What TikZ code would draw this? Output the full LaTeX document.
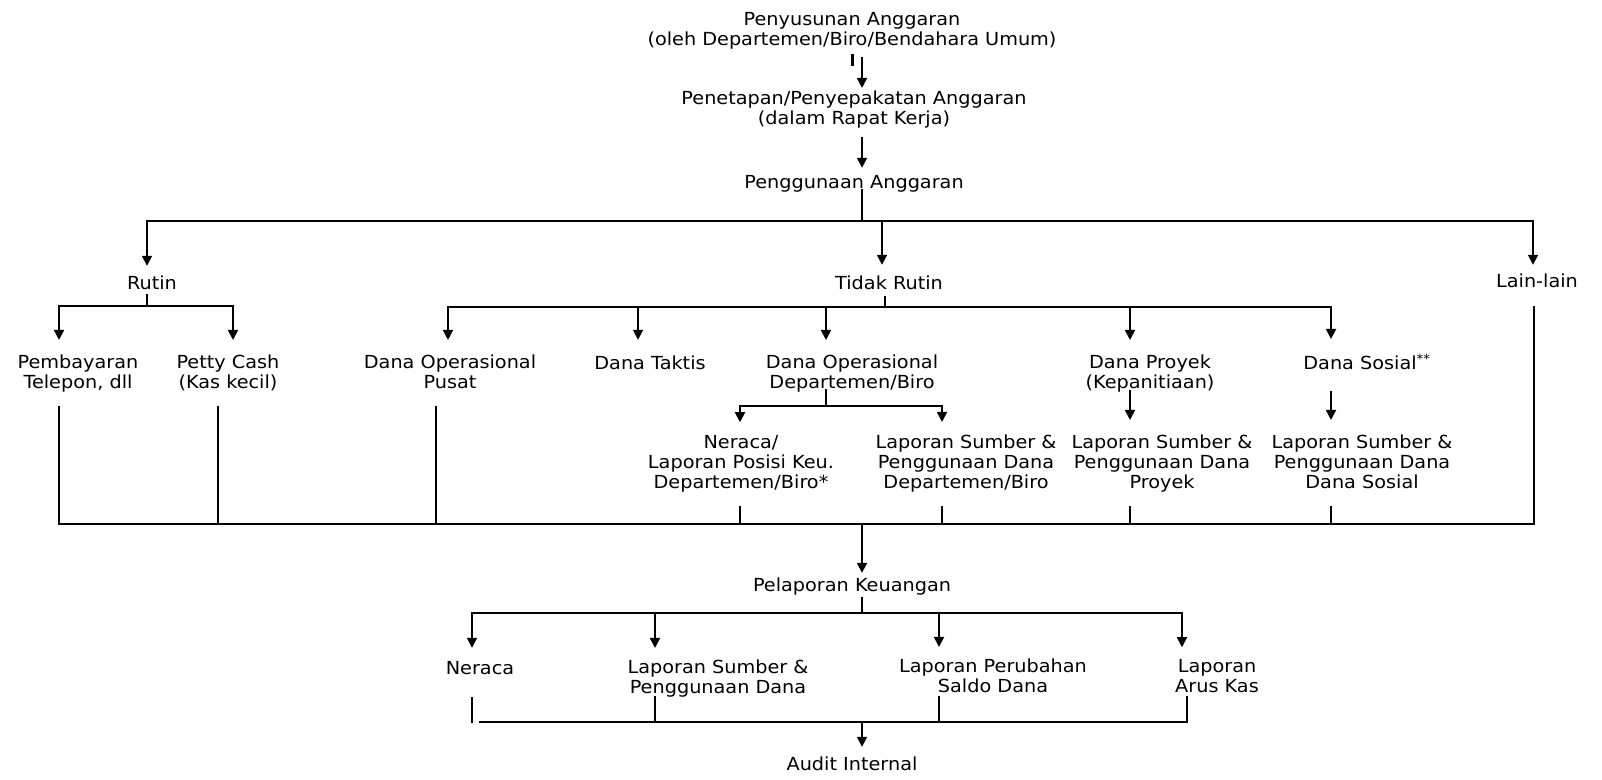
\documentclass[tikz,border=0pt]{standalone}
\usepackage{fontspec}
\setmainfont{DejaVu Sans}[FakeStretch=1.07]
\usetikzlibrary{arrows.meta}
\begin{document}
\begin{tikzpicture}[x=1pt,y=-1pt,
  lbl/.style={font=\fontsize{18}{20}\selectfont, align=center, inner sep=0pt,
              execute at begin node=\strut, execute at end node=\strut},
  ln/.style={line width=1.8pt, line cap=rect},
  arr/.style={line width=1.8pt, -{Triangle[length=10pt,width=10pt]}},
  tickmark/.style={line width=3pt}]
\useasboundingbox[fill=white] (0,0) rectangle (1602,779);

% ---------- nodes ----------
\node[lbl] (n1) at (852,32) {Penyusunan Anggaran\\(oleh Departemen/Biro/Bendahara Umum)};
\node[lbl] (n2) at (854,111) {Penetapan/Penyepakatan Anggaran\\(dalam Rapat Kerja)};
\node[lbl] (n3) at (854,184) {Penggunaan Anggaran};

\node[lbl] (rutin) at (152,285) {Rutin};
\node[lbl] (tidak) at (889,285) {Tidak Rutin};
\node[lbl] (lain)  at (1537,283) {Lain-lain};

\node[lbl] (pemb)   at (78,375)   {Pembayaran\\Telepon, dll};
\node[lbl] (petty)  at (228,375)  {Petty Cash\\(Kas kecil)};
\node[lbl] (pusat)  at (450,375)  {Dana Operasional\\Pusat};
\node[lbl] (taktis) at (650,365)  {Dana Taktis};
\node[lbl] (opdept) at (852,375)  {Dana Operasional\\Departemen/Biro};
\node[lbl] (proyek) at (1150,375) {Dana Proyek\\(Kepanitiaan)};
\node[lbl] (sosial) at (1367,365) {Dana Sosial\textsuperscript{**}};

\node[lbl] (ner1)   at (741,465)  {Neraca/\\Laporan Posisi Keu.\\Departemen/Biro*};
\node[lbl] (lsdept) at (966,465)  {Laporan Sumber \&\\Penggunaan Dana\\Departemen/Biro};
\node[lbl] (lsproy) at (1162,465) {Laporan Sumber \&\\Penggunaan Dana\\Proyek};
\node[lbl] (lssos)  at (1362,465) {Laporan Sumber \&\\Penggunaan Dana\\Dana Sosial};

\node[lbl] (pelap)  at (852,587)  {Pelaporan Keuangan};
\node[lbl] (neraca) at (480,670)  {Neraca};
\node[lbl] (lsd)    at (718,680)  {Laporan Sumber \&\\Penggunaan Dana};
\node[lbl] (lpsd)   at (993,679)  {Laporan Perubahan\\Saldo Dana};
\node[lbl] (lak)    at (1217,679) {Laporan\\Arus Kas};
\node[lbl] (audit)  at (852,766)  {Audit Internal};

% ---------- junction coordinates ----------
\coordinate (a0) at (862,0);
\coordinate (j0) at (862,221);
\coordinate (jR) at (147,221);
\coordinate (jT) at (882,221);
\coordinate (jL) at (1533,221);

\coordinate (r0) at (147,306);
\coordinate (r1) at (59,306);
\coordinate (r2) at (233,306);

\coordinate (t0) at (885,307);
\coordinate (t1) at (448,307);
\coordinate (t2) at (638,307);
\coordinate (t3) at (826,307);
\coordinate (t4) at (1130,307);
\coordinate (t5) at (1331,307);

\coordinate (d0) at (826,406);
\coordinate (d1) at (740,406);
\coordinate (d2) at (942,406);

\coordinate (c0) at (862,524);
\coordinate (cL) at (59,524);
\coordinate (c2) at (218,524);
\coordinate (c3) at (436,524);
\coordinate (c4) at (740,524);
\coordinate (c5) at (942,524);
\coordinate (c6) at (1130,524);
\coordinate (c7) at (1331,524);
\coordinate (cR) at (1534,524);

\coordinate (p0) at (862,613);
\coordinate (p1) at (472,613);
\coordinate (p2) at (655,613);
\coordinate (p3) at (939,613);
\coordinate (p4) at (1182,613);

\coordinate (e0) at (862,722);
\coordinate (e1) at (480,722);
\coordinate (e2) at (655,722);
\coordinate (e3) at (939,722);
\coordinate (e4) at (1187,722);

% ---------- top chain ----------
\draw[tickmark] (852,54) -- (852,66);
\draw[arr, shorten <=5pt, shorten >=3pt] (n1.south -| a0) -- (n2.north -| a0);
\draw[arr, shorten <=6pt, shorten >=6pt] (n2.south -| a0) -- (n3.north -| a0);
\draw[ln, shorten <=-4pt] (n3.south -| j0) -- (j0);

% level 1 bar
\draw[ln] (jR) -- (jL);
\draw[arr, shorten >=9pt]  (jR) -- (jR |- rutin.north);
\draw[arr, shorten >=10pt] (jT) -- (jT |- tidak.north);
\draw[arr, shorten >=8pt]  (jL) -- (jL |- lain.north);

% Rutin
\draw[ln] (rutin.south -| r0) -- (r0);
\draw[ln] (r1) -- (r2);
\draw[arr, shorten >=15pt] (r1) -- (r1 |- pemb.north);
\draw[arr, shorten >=15pt] (r2) -- (r2 |- petty.north);

% Tidak Rutin
\draw[ln, shorten <=2pt] (tidak.south -| t0) -- (t0);
\draw[ln] (t1) -- (t5);
\draw[arr, shorten >=15pt] (t1) -- (t1 |- pusat.north);
\draw[arr, shorten >=15pt] (t2) -- (t2 |- taktis.north);
\draw[arr, shorten >=15pt] (t3) -- (t3 |- opdept.north);
\draw[arr, shorten >=15pt] (t4) -- (t4 |- proyek.north);
\draw[arr, shorten >=15pt] (t5) -- (t5 |- sosial.north);

% Dana Operasional Departemen/Biro
\draw[ln, shorten <=-5pt] (opdept.south -| d0) -- (d0);
\draw[ln] (d1) -- (d2);
\draw[arr, shorten >=13pt] (d1) -- (d1 |- ner1.north);
\draw[arr, shorten >=13pt] (d2) -- (d2 |- lsdept.north);

% Proyek and Sosial
\draw[arr, shorten <=-5pt, shorten >=15pt] (proyek.south -| t4) -- (lsproy.north -| t4);
\draw[arr, shorten <=15pt, shorten >=15pt] (sosial.south -| t5) -- (lssos.north -| t5);

% ---------- collecting bar ----------
\draw[ln, shorten <=12pt] (pemb.south -| cL) -- (cL) -- (cR);
\draw[ln, shorten >=14pt] (cR) -- (lain.south -| cR);
\draw[ln, shorten <=12pt] (petty.south -| c2) -- (c2);
\draw[ln, shorten <=12pt] (pusat.south -| c3) -- (c3);
\draw[ln, shorten <=12pt] (ner1.south -| c4) -- (c4);
\draw[ln, shorten <=12pt] (lsdept.south -| c5) -- (c5);
\draw[ln, shorten <=12pt] (lsproy.south -| c6) -- (c6);
\draw[ln, shorten <=12pt] (lssos.south -| c7) -- (c7);

\draw[arr, shorten >=4pt] (c0) -- (c0 |- pelap.north);

% ---------- Pelaporan Keuangan ----------
\draw[ln, shorten <=1pt] (pelap.south -| p0) -- (p0);
\draw[ln] (p1) -- (p4);
\draw[arr, shorten >=12pt] (p1) -- (p1 |- neraca.north);
\draw[arr, shorten >=12pt] (p2) -- (p2 |- lsd.north);
\draw[arr, shorten >=12pt] (p3) -- (p3 |- lpsd.north);
\draw[arr, shorten >=12pt] (p4) -- (p4 |- lak.north);

\draw[ln, shorten <=18pt] (neraca.south -| p1) -- (p1 |- e0);
\draw[ln, shorten <=-3pt] (lsd.south -| e2) -- (e2);
\draw[ln, shorten <=-2pt] (lpsd.south -| e3) -- (e3);
\draw[ln, shorten <=-2pt] (lak.south -| e4) -- (e4) -- (e1);

\draw[arr, shorten >=9pt] (e0) -- (e0 |- audit.north);
\end{tikzpicture}
\end{document}
